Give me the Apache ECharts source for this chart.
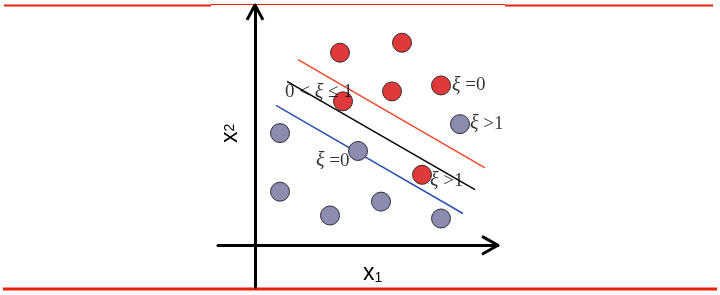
<!DOCTYPE html>
<html><head><meta charset="utf-8">
<script src="https://cdn.jsdelivr.net/npm/echarts@6/dist/echarts.min.js"></script>
<style>html,body{margin:0;padding:0;background:#fff}#c{width:720px;height:295px}</style>
</head><body><div id="c"></div>
<script>
// Data (units: origin at axes crossing)
const redPoints = [[85,194],[147,204],[137,155],[186,161],[88,145],[167,71]];
const grayPoints = [[205,122],[25,113],[103,95],[25,54],[75,30],[126,44],[186,27]];
const redLine = [[43,187],[230,78]];
const blackLine = [[32,165],[220,56]];
const blueLine = [[21,141],[208,32]];
const annotations = [
  {name:'ξ =0', value:[197,161]},
  {name:'ξ >1', value:[215,122]},
  {name:'0 < ξ ≤ 1', value:[30,154]},
  {name:'ξ =0', value:[61,85]},
  {name:'ξ >1', value:[175,65]}
];
const xArrow = [[227,9],[243,0],[227,-9]];
const yArrow = [[-8,227],[0,242],[8,227]];
const xRange = [-37,243];
const yRange = [-42,242];

const chart = echarts.init(document.getElementById('c'));
function seg(data,color,w){
  return {type:'line',data:data,symbol:'none',silent:true,
    lineStyle:{color:color,width:w||1.5},z:2};
}
chart.setOption({
  animation:false,
  grid:{left:218,right:222,top:5,bottom:8,containLabel:false},
  xAxis:{type:'value',min:xRange[0],max:xRange[1],
    axisLine:{onZero:true,lineStyle:{color:'#000',width:3}},
    axisTick:{show:false},axisLabel:{show:false},splitLine:{show:false}},
  yAxis:{type:'value',min:yRange[0],max:yRange[1],
    axisLine:{onZero:true,lineStyle:{color:'#000',width:3}},
    axisTick:{show:false},axisLabel:{show:false},splitLine:{show:false}},
  series:[
    seg(xArrow,'#000',3),
    seg(yArrow,'#000',3),
    seg(redLine,'#F0492A'),
    seg(blackLine,'#000'),
    seg(blueLine,'#2F50B0'),
    {type:'scatter',data:redPoints,symbolSize:19,z:3,
      itemStyle:{color:'#E0393B',borderColor:'#3a2a2a',borderWidth:1,opacity:1}},
    {type:'scatter',data:grayPoints,symbolSize:19,z:3,
      itemStyle:{color:'#8C8CB0',borderColor:'#2e2e3a',borderWidth:1,opacity:1}},
    {type:'scatter',data:annotations,symbolSize:0,z:4,
      label:{show:true,position:'right',distance:0,
        formatter:function(p){return p.name.replace('ξ','{i|ξ}');},
        color:'#000',fontFamily:'Liberation Serif',fontSize:19,
        rich:{i:{fontFamily:'Liberation Serif',fontStyle:'italic',fontSize:20,color:'#000'}}}}
  ],
  graphic:[
    {type:'line',shape:{x1:4,y1:5.5,x2:211,y2:5.5},style:{stroke:'#E8200A',lineWidth:2}},
    {type:'line',shape:{x1:211,y1:4.5,x2:505,y2:4.5},style:{stroke:'#E8200A',lineWidth:1}},
    {type:'line',shape:{x1:505,y1:5.5,x2:713,y2:5.5},style:{stroke:'#E8200A',lineWidth:2}},
    {type:'line',shape:{x1:3,y1:289,x2:717,y2:289},style:{stroke:'#E8200A',lineWidth:3}},
    {type:'text',x:363,y:262,style:{text:'{a|x}{b|1}',rich:{
      a:{fontFamily:'Liberation Sans',fontSize:23,fill:'#000',verticalAlign:'bottom'},
      b:{fontFamily:'Liberation Sans',fontSize:14,fill:'#000',verticalAlign:'bottom'}}}},
    {type:'text',x:219,y:143,rotation:Math.PI/2,style:{text:'{a|x}{b|2}',rich:{
      a:{fontFamily:'Liberation Sans',fontSize:23,fill:'#000'},
      b:{fontFamily:'Liberation Sans',fontSize:14,fill:'#000'}}}}
  ]
});
</script></body></html>
